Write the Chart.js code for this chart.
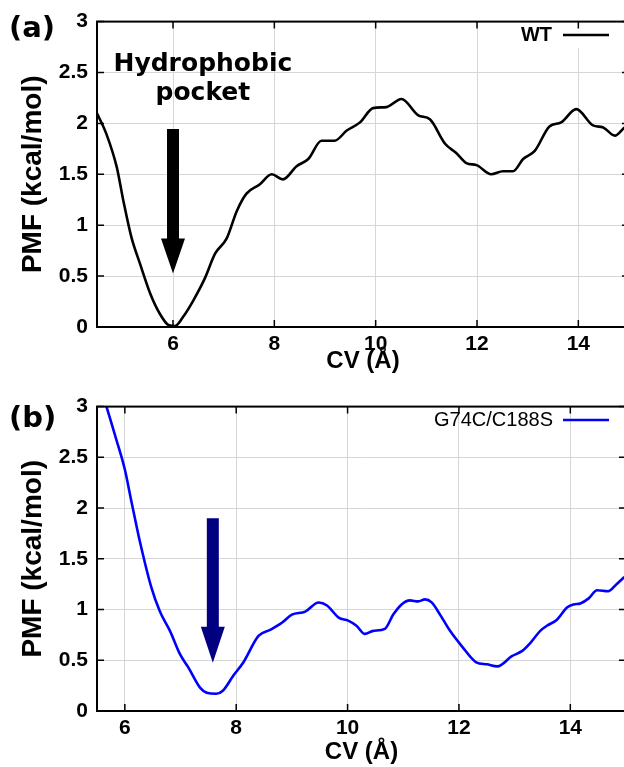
<!DOCTYPE html>
<html>
<head>
<meta charset="utf-8">
<script src="https://cdn.jsdelivr.net/npm/chart.js@4/dist/chart.umd.min.js"></script>
<style>
html, body { margin: 0; padding: 0; background: #fff; overflow: hidden; width: 624px; height: 767px; }
#pa { position: absolute; left: 0; top: 0; }
#pb { position: absolute; left: 0; top: 385px; }
</style>
</head>
<body>
<canvas id="pa" width="632" height="385"></canvas>
<canvas id="pb" width="632" height="382"></canvas>
<script>
// panel (a): WT
const wtCV  = [4.5, 4.69, 4.89, 5.02, 5.18, 5.35, 5.55, 5.74, 5.91, 6.04, 6.2, 6.4, 6.63, 6.83, 7.06, 7.26, 7.45, 7.71, 7.95, 8.17,
               8.44, 8.67, 8.93, 9.19, 9.43, 9.69, 9.95, 10.21, 10.51, 10.84, 11.07, 11.37, 11.59, 11.79, 11.99, 12.28, 12.51, 12.71,
               12.91, 13.14, 13.43, 13.66, 13.96, 14.29, 14.49, 14.72, 14.89, 15.0];
const wtPMF = [2.10, 1.89, 1.57, 1.24, 0.88, 0.62, 0.33, 0.13, 0.02, 0.01, 0.10, 0.26, 0.48, 0.72, 0.87, 1.14, 1.31, 1.40, 1.50, 1.45,
               1.58, 1.65, 1.83, 1.83, 1.93, 2.01, 2.15, 2.16, 2.24, 2.08, 2.04, 1.80, 1.71, 1.61, 1.59, 1.50, 1.53, 1.53,
               1.65, 1.73, 1.97, 2.01, 2.14, 1.98, 1.96, 1.88, 1.95, 2.0];

// panel (b): G74C/C188S
const mutCV  = [5.67, 5.85, 6.0, 6.12, 6.27, 6.48, 6.63, 6.81, 6.99, 7.14, 7.35, 7.47, 7.64, 7.76, 7.95, 8.13, 8.4, 8.61, 8.82, 9.0,
                9.24, 9.48, 9.63, 9.84, 10.01, 10.16, 10.31, 10.46, 10.67, 10.82, 10.97, 11.12, 11.27, 11.39, 11.51, 11.66, 11.84,
                12.05, 12.31, 12.5, 12.69, 12.95, 13.13, 13.28, 13.46, 13.58, 13.76, 13.94, 14.06, 14.18, 14.33, 14.48, 14.68, 14.83, 14.97];
const mutPMF = [3.0, 2.67, 2.38, 2.06, 1.67, 1.21, 0.98, 0.79, 0.56, 0.43, 0.23, 0.18, 0.17, 0.20, 0.35, 0.48, 0.74, 0.80, 0.87, 0.95,
                0.98, 1.07, 1.04, 0.92, 0.89, 0.84, 0.76, 0.79, 0.81, 0.95, 1.05, 1.09, 1.08, 1.10, 1.07, 0.95, 0.79,
                0.64, 0.48, 0.46, 0.44, 0.54, 0.59, 0.67, 0.79, 0.84, 0.90, 1.02, 1.05, 1.06, 1.11, 1.19, 1.18, 1.25, 1.32];

const xTicks = [6, 8, 10, 12, 14];
const yTicks = [0, 0.5, 1, 1.5, 2, 2.5, 3];

const decor = {
  id: 'decor',
  afterDraw(chart, args, o) {
    const { ctx, chartArea: a, scales: { x, y } } = chart;
    ctx.save();

    // legend box (opaque in panel a)
    if (o.legendBox) {
      ctx.fillStyle = '#fff';
      ctx.fillRect(o.legendBox[0], a.top + 1, o.legendBox[1] - o.legendBox[0], o.legendBox[2] - a.top);
    }

    // inward ticks on all four sides
    ctx.strokeStyle = '#000';
    ctx.lineWidth = 1.5;
    ctx.beginPath();
    x.ticks.forEach(t => {
      const px = x.getPixelForValue(t.value);
      ctx.moveTo(px, a.bottom); ctx.lineTo(px, a.bottom - 7);
      ctx.moveTo(px, a.top); ctx.lineTo(px, a.top + 7);
    });
    y.ticks.forEach(t => {
      const py = y.getPixelForValue(t.value);
      ctx.moveTo(a.left, py); ctx.lineTo(a.left + 7, py);
      ctx.moveTo(a.right, py); ctx.lineTo(a.right - 7, py);
    });
    ctx.stroke();
    ctx.lineWidth = 2;
    ctx.strokeRect(a.left, a.top, a.right - a.left, a.bottom - a.top);

    // arrow
    const ar = o.arrow;
    const ax = x.getPixelForValue(ar.x);
    const yTop = y.getPixelForValue(ar.top), yHead = y.getPixelForValue(ar.head), yTip = y.getPixelForValue(ar.tip);
    ctx.fillStyle = ar.color;
    ctx.beginPath();
    ctx.moveTo(ax - 6, yTop); ctx.lineTo(ax + 6, yTop); ctx.lineTo(ax + 6, yHead);
    ctx.lineTo(ax + 12, yHead); ctx.lineTo(ax, yTip); ctx.lineTo(ax - 12, yHead);
    ctx.lineTo(ax - 6, yHead); ctx.closePath();
    ctx.fill();

    // annotation text
    if (o.note) {
      ctx.fillStyle = '#000';
      ctx.font = 'bold 25px "DejaVu Sans"';
      ctx.textAlign = 'center';
      ctx.textBaseline = 'alphabetic';
      o.note.lines.forEach((s, i) => {
        ctx.fillText(s, x.getPixelForValue(o.note.x), y.getPixelForValue(o.note.y[i]));
      });
    }

    // legend
    const lg = o.legend;
    ctx.font = lg.font;
    ctx.fillStyle = '#000';
    ctx.textAlign = 'right';
    ctx.textBaseline = 'middle';
    ctx.fillText(lg.text, lg.textRight, lg.y);
    ctx.strokeStyle = lg.color;
    ctx.lineWidth = 2.6;
    ctx.beginPath();
    ctx.moveTo(lg.x1, lg.y); ctx.lineTo(lg.x2, lg.y);
    ctx.stroke();

    // panel label
    ctx.font = 'bold 29px "DejaVu Sans"';
    ctx.fillStyle = '#000';
    ctx.textAlign = 'left';
    ctx.fillText(o.tag, 9, o.tagY);

    ctx.restore();
  }
};

const tickFont = { family: '"Liberation Sans", Arial, sans-serif', size: 21, weight: 'bold' };

function makePanel(id, xs, ys, cfg) {
  return new Chart(document.getElementById(id), {
    type: 'line',
    data: {
      datasets: [{
        data: xs.map((v, i) => ({ x: v, y: ys[i] })),
        borderColor: cfg.color,
        borderWidth: 2.6,
        pointRadius: 0,
        cubicInterpolationMode: 'monotone',
        fill: false
      }]
    },
    options: {
      responsive: false,
      animation: false,
      devicePixelRatio: 1,
      layout: { padding: { top: cfg.top, right: cfg.right, bottom: 0, left: 0 } },
      plugins: { legend: { display: false }, tooltip: { enabled: false }, decor: cfg.decor },
      scales: {
        x: {
          type: 'linear',
          min: cfg.xmin,
          max: 15,
          afterBuildTicks: s => { s.ticks = xTicks.map(v => ({ value: v })); },
          afterFit: s => { s.height = cfg.xh; },
          grid: { color: '#d6d6d6', lineWidth: 1, drawTicks: false },
          border: { display: false },
          ticks: { padding: 5, color: '#000', font: tickFont, maxRotation: 0, callback: v => String(v) },
          title: {
            display: true, text: 'CV (Å)', color: '#000',
            font: { family: '"Liberation Sans", Arial, sans-serif', size: 24, weight: 'bold' },
            padding: { top: 0, bottom: cfg.xtp }
          }
        },
        y: {
          min: 0,
          max: 3,
          afterBuildTicks: s => { s.ticks = yTicks.map(v => ({ value: v })); },
          afterFit: s => { s.width = 97; },
          grid: { color: '#d6d6d6', lineWidth: 1, drawTicks: false },
          border: { display: false },
          ticks: { padding: 9, color: '#000', font: tickFont, callback: v => String(v) },
          title: {
            display: true, text: 'PMF (kcal/mol)', color: '#000',
            font: { family: '"Liberation Sans", Arial, sans-serif', size: 28, weight: 'bold' },
            padding: { top: 16, bottom: 0 }
          }
        }
      }
    },
    plugins: [decor]
  });
}

makePanel('pa', wtCV, wtPMF, {
  color: '#000000', xmin: 4.5, top: 20, right: 3, xh: 58, xtp: 9,
  decor: {
    tag: '(a)', tagY: 29,
    legendBox: [515, 618, 47],
    arrow: { x: 6.0, top: 1.945, head: 0.87, tip: 0.525, color: '#000' },
    note: { x: 6.59, y: [2.51, 2.23], lines: ['Hydrophobic', 'pocket'] },
    legend: { text: 'WT', font: 'bold 20px "Liberation Sans", Arial, sans-serif', textRight: 552, y: 35, x1: 563, x2: 609, color: '#000' }
  }
});

makePanel('pb', mutCV, mutPMF, {
  color: '#0000ff', xmin: 5.5, top: 18, right: 6, xh: 56, xtp: 0,
  decor: {
    tag: '(b)', tagY: 34,
    arrow: { x: 7.58, top: 1.90, head: 0.83, tip: 0.475, color: '#000080' },
    legend: { text: 'G74C/C188S', font: '20px "Liberation Sans", Arial, sans-serif', textRight: 553, y: 35, x1: 563, x2: 609, color: '#0000ff' }
  }
});
</script>
</body>
</html>
